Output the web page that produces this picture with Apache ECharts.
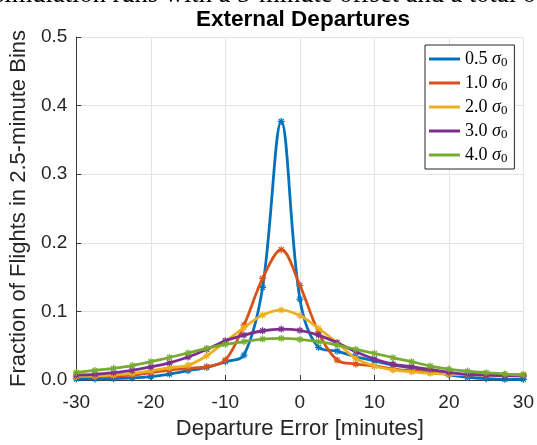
<!DOCTYPE html>
<html>
<head>
<meta charset="utf-8">
<script src="https://cdn.jsdelivr.net/npm/echarts@6/dist/echarts.min.js"></script>
<style>html,body{margin:0;padding:0;background:#fff;}#c{width:537px;height:445px;}</style>
</head>
<body>
<div id="c"></div>
<script>
// Data (departure error in minutes, 2.5-minute bins)
const xValues = [-30,-27.5,-25,-22.5,-20,-17.5,-15,-12.5,-10,-7.5,-5,-2.5,0,2.5,5,7.5,10,12.5,15,17.5,20,22.5,25,27.5,30];
const seriesNames = ['0.5', '1.0', '2.0', '3.0', '4.0'];
const s05 = [0.0015,0.0015,0.002,0.003,0.005,0.0087,0.0136,0.0185,0.0267,0.0364,0.135,0.377,0.118,0.0476,0.042,0.034,0.0277,0.0218,0.018,0.013,0.0075,0.004,0.002,0.001,0.001];
const s10 = [0.005,0.005,0.0055,0.007,0.0107,0.0146,0.017,0.0194,0.029,0.08,0.148,0.190,0.138,0.07,0.029,0.0233,0.0204,0.016,0.0135,0.0112,0.009,0.0078,0.0073,0.0068,0.0068];
const s20 = [0.0055,0.006,0.0075,0.0097,0.0136,0.018,0.0215,0.0354,0.0558,0.0762,0.0946,0.102,0.094,0.0752,0.0543,0.0316,0.0204,0.0146,0.012,0.0097,0.0083,0.008,0.0078,0.008,0.0085];
const s30 = [0.0073,0.0083,0.0107,0.014,0.019,0.025,0.0335,0.0447,0.0572,0.0655,0.0718,0.0742,0.0725,0.0655,0.0543,0.0412,0.0306,0.0233,0.0194,0.0155,0.0112,0.0083,0.0073,0.0063,0.0058];
const s40 = [0.011,0.014,0.017,0.021,0.0267,0.0328,0.0394,0.046,0.052,0.0558,0.0597,0.0607,0.0592,0.0558,0.051,0.0447,0.0389,0.0325,0.0267,0.0204,0.016,0.013,0.0107,0.0087,0.0073];
const xTicks = [-30,-20,-10,0,10,20,30];
const yTicks = [0,0.1,0.2,0.3,0.4,0.5];

const allSeries = [s05, s10, s20, s30, s40];
const colors = ['#0072BD','#D95319','#EDB120','#7E2F8E','#77AC30'];
const star = 'path://M-0.7,-4 L0.7,-4 L0.7,-0.7 L4,-0.7 L4,0.7 L0.7,0.7 L0.7,4 L-0.7,4 L-0.7,0.7 L-4,0.7 L-4,-0.7 L-0.7,-0.7 Z M-3.3,-2.3 L-2.3,-3.3 L3.3,2.3 L2.3,3.3 Z M3.3,-2.3 L2.3,-3.3 L-3.3,2.3 L-2.3,3.3 Z';

const chart = echarts.init(document.getElementById('c'), null, {renderer:'canvas'});
const axisColor = '#3a3a3a';
const labelFont = 'Liberation Sans, Arial, Helvetica, sans-serif';
chart.setOption({
  animation: false,
  backgroundColor: '#fff',
  color: colors,
  title: {
    text: 'External Departures',
    left: 298, top: 3,
    textAlign: 'center',
    textStyle: {fontFamily: labelFont, fontWeight: 'bold', fontSize: 22.5, color: '#000'}
  },
  graphic: [{
    type: 'text', left: -6, top: -18,
    style: {text: 'simulation runs with a 5-minute offset and a total of', font: '26.5px "Liberation Serif", "Times New Roman", serif', fill: '#000'}
  }],
  legend: {
    orient: 'vertical',
    left: 425, top: 45,
    padding: [5, 7, 4, 4],
    itemGap: 5,
    itemWidth: 31, itemHeight: 3,
    icon: 'rect',
    backgroundColor: '#fff',
    borderColor: '#262626', borderWidth: 1,
    formatter: function(name){ return '{n|' + name + ' }{s|σ}{b|0}'; },
    textStyle: {
      fontFamily: 'Liberation Serif, serif', fontSize: 18, color: '#000', lineHeight: 18,
      rich: {
        n: {fontFamily: 'Liberation Serif, serif', fontSize: 18, color: '#000'},
        s: {fontFamily: 'Liberation Serif, serif', fontSize: 18, fontStyle: 'italic', color: '#000'},
        b: {fontFamily: 'Liberation Serif, serif', fontSize: 13, color: '#000', padding: [7,0,0,0]}
      }
    },
    data: seriesNames
  },
  grid: {left: 71, right: 10, top: 37, bottom: 65, containLabel: false},
  xAxis: {
    type: 'value', min: -30, max: 30, interval: 10,
    name: 'Departure Error [minutes]', nameLocation: 'middle', nameGap: 38,
    nameTextStyle: {fontFamily: labelFont, fontSize: 22, color: '#262626'},
    axisLine: {show: true, onZero: false, lineStyle: {color: axisColor, width: 1}},
    axisTick: {show: true, inside: true, length: 5, lineStyle: {color: axisColor}},
    axisLabel: {fontFamily: labelFont, fontSize: 19, color: '#262626', margin: 13,
      formatter: function(v){ return xTicks.indexOf(v) >= 0 ? String(v) : ''; }},
    splitLine: {show: true, lineStyle: {color: '#e3e3e3', width: 1}}
  },
  yAxis: {
    type: 'value', min: 0, max: 0.5, interval: 0.1,
    name: 'Fraction of Flights in 2.5-minute Bins', nameLocation: 'middle', nameGap: 39,
    nameTextStyle: {fontFamily: labelFont, fontSize: 22, color: '#262626'},
    axisLine: {show: true, onZero: false, lineStyle: {color: axisColor, width: 1}},
    axisTick: {show: true, inside: true, length: 5, lineStyle: {color: axisColor}},
    axisLabel: {fontFamily: labelFont, fontSize: 19, color: '#262626', margin: 9,
      formatter: function(v){ return v.toFixed(1); }},
    splitLine: {show: true, lineStyle: {color: '#e3e3e3', width: 1}}
  },
  series: allSeries.map(function(vals, i){
    return {
      name: seriesNames[i],
      type: 'line',
      smooth: 0.35,
      data: xValues.map(function(x, j){ return [x, vals[j]]; }),
      symbol: star, symbolSize: 7, showSymbol: true,
      itemStyle: {color: colors[i]},
      lineStyle: {color: colors[i], width: 2.8},
      z: 2 + i
    };
  })
});
</script>
</body>
</html>
